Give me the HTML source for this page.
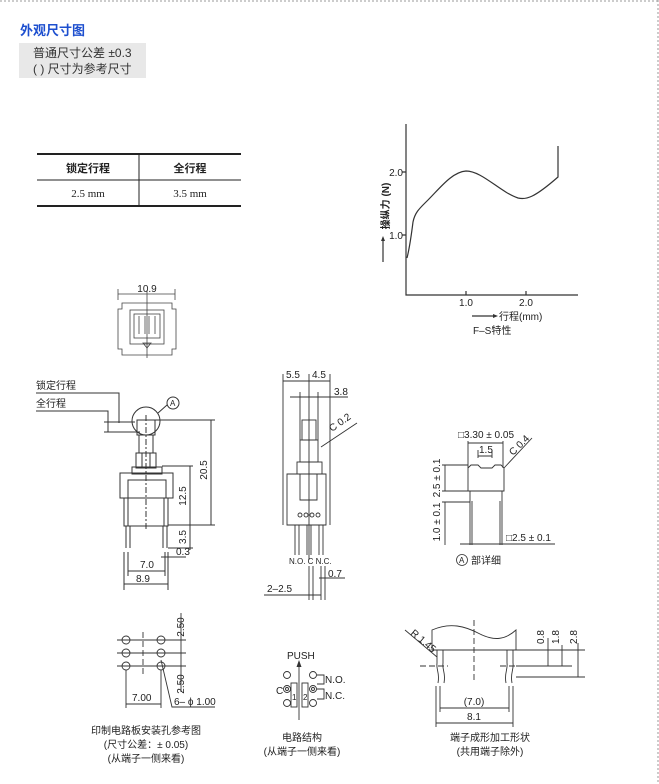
<!DOCTYPE html>
<html><head><meta charset="utf-8"><style>
body{margin:0;background:#fff;}
svg{display:block;font-family:"Liberation Sans","Noto Sans CJK SC",sans-serif;}
</style></head><body>
<svg width="659" height="784" viewBox="0 0 659 784" xmlns="http://www.w3.org/2000/svg">
<g stroke="#999" stroke-width="1" stroke-dasharray="2,2"><line x1="0" y1="1" x2="658" y2="1"/><line x1="658" y1="0" x2="658" y2="784"/></g>
<text x="20" y="35" font-size="13" font-weight="bold" fill="#1d4fcf">外观尺寸图</text>
<rect x="19" y="43" width="127" height="35" fill="#e8e8e8"/>
<text x="33" y="57" font-size="12" fill="#333">普通尺寸公差 ±0.3</text>
<text x="33" y="73" font-size="12" fill="#333">( ) 尺寸为参考尺寸</text>
<!-- table -->
<g stroke="#222"><line x1="37" y1="154" x2="241" y2="154" stroke-width="2"/><line x1="37" y1="180" x2="241" y2="180"/><line x1="37" y1="206" x2="241" y2="206" stroke-width="2"/><line x1="139" y1="154" x2="139" y2="206"/></g>
<g font-size="11" text-anchor="middle" fill="#222"><text x="88" y="172" font-weight="bold">锁定行程</text><text x="190" y="172" font-weight="bold">全行程</text>
<text x="88" y="197" font-family="Liberation Serif,serif">2.5 mm</text><text x="190" y="197" font-family="Liberation Serif,serif">3.5 mm</text></g>
<!-- graph -->
<g stroke="#333" fill="none" stroke-width="1.2">
<path d="M406 124V295H578"/><path d="M402 172H406M402 235H406M466 295V291M526 295V291"/>
<path d="M407 258C409 250 411 238 413 222C415 212 420 208 428 200C440 188 452 172 466 171C482 171 500 192 518 198C526 200 534 198 558 177V146"/>
<path d="M383 262V240"/><path d="M472 316H494"/></g>
<path d="M383 236l-2 5h4z M498 316l-5 -2v4z" fill="#333"/>
<g font-size="10" fill="#222"><text x="403" y="176" text-anchor="end">2.0</text><text x="403" y="239" text-anchor="end">1.0</text>
<text x="466" y="306" text-anchor="middle">1.0</text><text x="526" y="306" text-anchor="middle">2.0</text>
<text x="499" y="320">行程(mm)</text><text x="473" y="334">F–S特性</text>
<text transform="translate(389,206) rotate(-90)" text-anchor="middle" font-weight="bold">操纵力 (N)</text></g>
<!-- top view -->
<g stroke="#444" fill="none" stroke-width="0.8">
<path d="M118 289V300M175 289V300M118 294H175"/>
<path d="M122 303H172V309H176V349H172V355H122V349H118V309H122Z"/>
<rect x="130" y="310" width="34" height="34"/><rect x="134" y="314" width="26" height="24"/>
<path d="M139 316V334M145 316V334M149 316V334M155 316V334"/><path d="M147 290V358"/>
<path d="M143 343h8l-4 5z"/></g>
<text x="147" y="292" font-size="10" text-anchor="middle" fill="#222">10.9</text>
<!-- front view -->
<g stroke="#333" fill="none" stroke-width="1">
<path d="M36 393H119V423M36 411H108V432M104 422H135M104 432H140"/>
<circle cx="146" cy="421" r="14"/><path d="M158 413L167 405"/><circle cx="173" cy="403" r="6"/>
<rect x="137" y="420" width="18" height="15"/><rect x="139" y="435" width="14" height="18"/><rect x="136" y="453" width="20" height="15"/>
<path d="M142 453V468M150 453V468"/>
<rect x="132" y="467" width="30" height="7"/>
<path d="M120 473H173V498H166V480H128V498H120Z"/><rect x="124" y="498" width="44" height="28"/>
<path d="M128 498V526M164 498V526"/>
<path d="M126 526V548M130 526V548M163 526V548M167 526V548"/>
<path d="M155 420H215M162 466H193M168 525H215M211 420V525M190 466V550"/>
<path d="M168 548H193M161 557H186M128 552V576M165 552V576M124 552V590M168 552V590M128 571H165M124 584H168"/>
<path d="M146 415V530" stroke-dasharray="6,2,2,2"/></g>
<g font-size="10" fill="#222"><text x="36" y="389">锁定行程</text><text x="36" y="407">全行程</text>
<text x="170" y="406" font-size="8">A</text>
<text transform="translate(207,470) rotate(-90)" text-anchor="middle">20.5</text>
<text transform="translate(186,496) rotate(-90)" text-anchor="middle">12.5</text>
<text transform="translate(186,537) rotate(-90)" text-anchor="middle">3.5</text>
<text x="176" y="555">0.3</text><text x="140" y="568">7.0</text><text x="136" y="582">8.9</text></g>
<!-- side view -->
<g stroke="#333" fill="none" stroke-width="0.9">
<path d="M283 374V525M330 374V525M283 381H330M309 374V560M290 397H348M300 392V440M318 392V440"/>
<rect x="302" y="420" width="14" height="20"/><rect x="300" y="440" width="18" height="22"/>
<rect x="297" y="462" width="25" height="12"/><path d="M287 474H326V525H287Z M300 474V500H317V474"/>
<circle cx="300" cy="515" r="2"/><circle cx="306" cy="515" r="2"/><circle cx="312" cy="515" r="2"/><circle cx="318" cy="515" r="2"/>
<path d="M295 525V555M299 525V555M307 525V555M311 525V555M319 525V555M323 525V555"/>
<path d="M321 447L357 423M309 566V600M313 566V600M321 566V600M325 566V600M319 578H345M264 595H321"/></g>
<g font-size="10" fill="#222"><text x="286" y="378">5.5</text><text x="312" y="378">4.5</text><text x="334" y="395">3.8</text>
<text transform="translate(332,432) rotate(-35)">C 0.2</text>
<text x="289" y="564" font-size="8">N.O. C N.C.</text><text x="328" y="577">0.7</text><text x="267" y="592">2–2.5</text></g>
<!-- detail A -->
<g stroke="#333" fill="none" stroke-width="0.9">
<path d="M468 441V468M503 441V468M468 443H503M478 450V458M492 450V458M478 456H492"/>
<path d="M468 468L471 465H478L481 468H492L495 465H501L504 468V491H468Z"/>
<path d="M470 491V545M472 501V545M500 501V545M502 491V545"/>
<path d="M442 465H468M442 491H468M442 502H470M445 465V491M445 502V545M504 468L532 438M460 544H555"/></g>
<g font-size="10" fill="#222"><text x="458" y="438">□3.30 ± 0.05</text><text x="479" y="453">1.5</text>
<text transform="translate(513,456) rotate(-45)">C 0.4</text>
<text transform="translate(440,478) rotate(-90)" text-anchor="middle">2.5 ± 0.1</text>
<text transform="translate(440,522) rotate(-90)" text-anchor="middle">1.0 ± 0.1</text>
<text x="506" y="541">□2.5 ± 0.1</text>
<circle cx="462" cy="560" r="5.5" fill="none" stroke="#333" stroke-width="0.8"/><text x="459" y="563" font-size="8">A</text>
<text x="471" y="564">部详细</text></g>
<!-- PCB -->
<g stroke="#333" fill="none" stroke-width="0.9">
<circle cx="126" cy="640" r="4"/><circle cx="126" cy="653" r="4"/><circle cx="126" cy="666" r="4"/>
<circle cx="161" cy="640" r="4"/><circle cx="161" cy="653" r="4"/><circle cx="161" cy="666" r="4"/>
<path d="M117 640H186M117 653H186M117 666H186M181 613V692M126 670V708M161 670V708M126 704H161M161 660L172 707H215"/>
<path d="M143 632V675" stroke-dasharray="6,3"/></g>
<g font-size="10" fill="#222"><text transform="translate(184,627) rotate(-90)" text-anchor="middle">2.50</text>
<text transform="translate(184,684) rotate(-90)" text-anchor="middle">2.50</text>
<text x="132" y="701">7.00</text><text x="174" y="705">6– ϕ 1.00</text>
<g text-anchor="middle"><text x="146" y="734">印制电路板安装孔参考图</text><text x="146" y="748">(尺寸公差：± 0.05)</text><text x="146" y="762">(从端子一侧来看)</text>
<text x="302" y="741">电路结构</text><text x="302" y="755">(从端子一侧来看)</text>
<text x="490" y="741">端子成形加工形状</text><text x="490" y="755">(共用端子除外)</text></g></g>
<!-- circuit -->
<g stroke="#333" fill="none" stroke-width="0.9">
<path d="M299 720V666"/><circle cx="287" cy="675" r="3.5"/><circle cx="287" cy="689" r="3.5"/><circle cx="287" cy="689" r="1.5"/><circle cx="287" cy="703" r="3.5"/>
<circle cx="313" cy="675" r="3.5"/><circle cx="313" cy="689" r="3.5"/><circle cx="313" cy="689" r="1.5"/><circle cx="313" cy="703" r="3.5"/>
<rect x="291" y="683" width="6" height="24"/><rect x="302" y="683" width="6" height="24"/>
<path d="M317 675H324V684H317M317 689H324V699H317"/></g>
<path d="M299 660l-2.5 7h5z" fill="#333"/>
<g font-size="10" fill="#222"><text x="287" y="659">PUSH</text><text x="276" y="694">C</text><text x="325" y="683">N.O.</text><text x="325" y="699">N.C.</text>
<text x="292" y="700" font-size="8">1</text><text x="303" y="700" font-size="8">2</text></g>
<!-- terminal forming -->
<g stroke="#333" fill="none" stroke-width="0.9">
<path d="M432 650V630C450 622 465 626 480 634C494 641 505 640 516 630V650Z"/>
<path d="M437 650V663C436 670 440 673 438 683M443 650V663C442 670 446 673 444 683"/>
<path d="M507 650V663C508 670 504 673 506 683M513 650V663C514 670 510 673 512 683"/>
<path d="M420 666H448M500 666H528" stroke-dasharray="6,3"/><path d="M474 620V680" stroke-dasharray="6,3"/>
<path d="M516 650H585M516 666H572M516 677H585M548 638V666M562 645V666M578 643V677"/>
<path d="M405 630L437 657M440 686V712M509 686V712M436 686V727M513 686V727M440 708H509M436 723H513"/></g>
<g font-size="10" fill="#222"><text transform="translate(410,634) rotate(40)">R 1.45</text>
<text transform="translate(544,637) rotate(-90)" text-anchor="middle">0.8</text>
<text transform="translate(559,637) rotate(-90)" text-anchor="middle">1.8</text>
<text transform="translate(577,637) rotate(-90)" text-anchor="middle">2.8</text>
<text x="474" y="705" text-anchor="middle">(7.0)</text><text x="474" y="720" text-anchor="middle">8.1</text></g>
</svg>
</body></html>
